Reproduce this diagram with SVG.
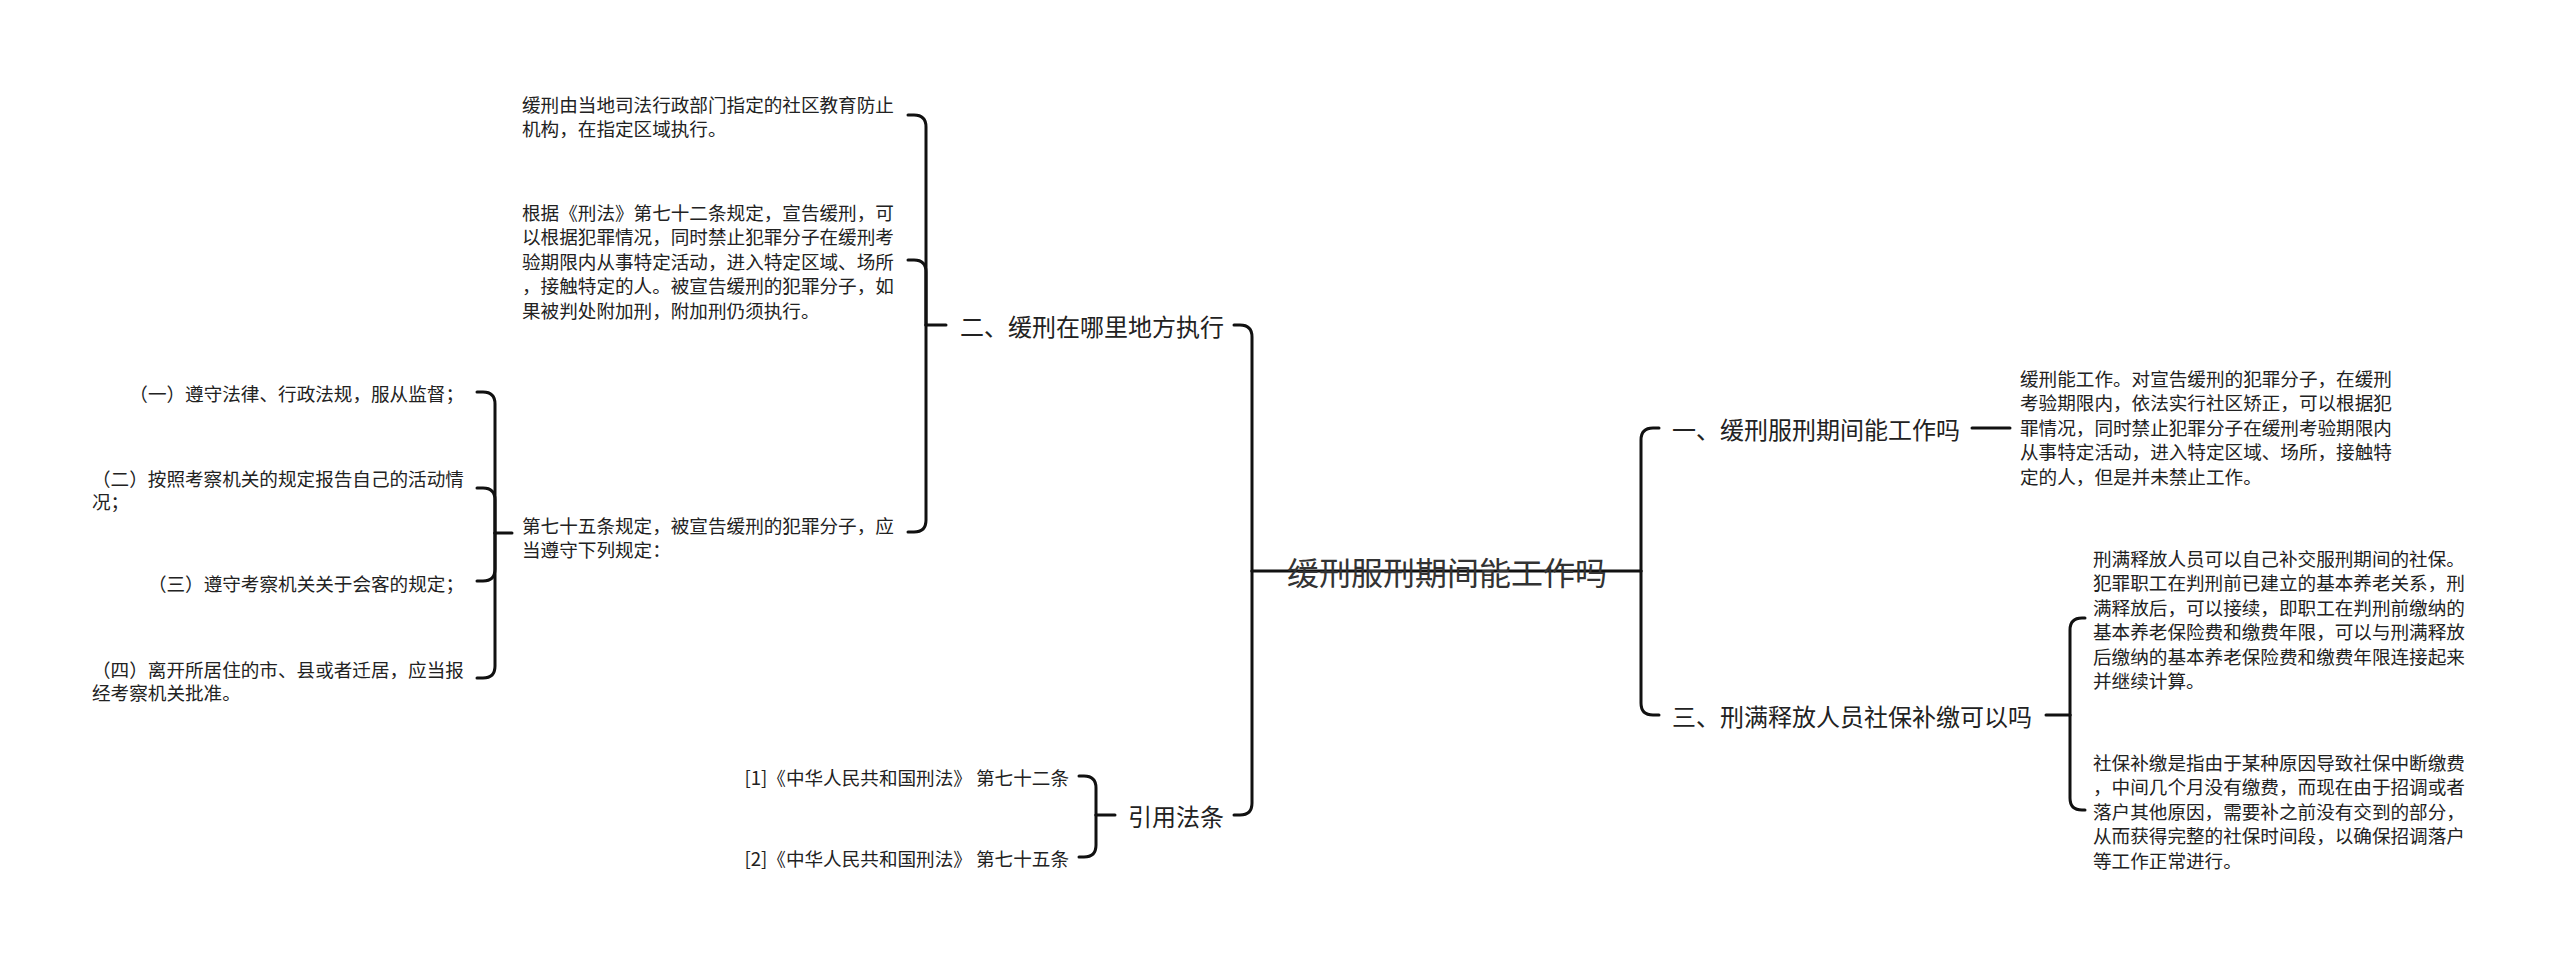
<svg xmlns="http://www.w3.org/2000/svg" width="2560" height="961" viewBox="0 0 2560 961">
<style>
text{font-family:"Noto Sans CJK SC","Noto Sans",sans-serif;fill:#222;dominant-baseline:central}
.root{font-size:32px;fill:#333}
.mid{font-size:24px}
.leaf{font-size:18.6px}
.end{text-anchor:end}
.c{text-anchor:middle}
#connectors path{fill:none;stroke:#111;stroke-width:3;stroke-linecap:round}
</style>
<rect width="2560" height="961" fill="#fff"/>
<g id="connectors">
<path d="M1252 571 H1641"/>
<path d="M1252 571 V337 Q1252 325 1240 325 H1234"/>
<path d="M1252 571 V803 Q1252 815 1240 815 H1234"/>
<path d="M1641 571 V440 Q1641 428 1653 428 H1659"/>
<path d="M1641 571 V703 Q1641 715 1653 715 H1659"/>
<path d="M1972 428 H2010"/>
<path d="M2046 715 H2070"/>
<path d="M2070 715 V630 Q2070 618 2082 618 H2085"/>
<path d="M2070 715 V798 Q2070 810 2082 810 H2085"/>
<path d="M946 325 H926"/>
<path d="M926 325 V127 Q926 115 914 115 H908"/>
<path d="M926 325 V272 Q926 260 914 260 H908"/>
<path d="M926 325 V520 Q926 532 914 532 H908"/>
<path d="M512 533 H495"/>
<path d="M495 533 V404 Q495 392 483 392 H477"/>
<path d="M495 533 V500 Q495 488 483 488 H477"/>
<path d="M495 533 V569 Q495 581 483 581 H477"/>
<path d="M495 533 V666 Q495 678 483 678 H477"/>
<path d="M1115 815 H1096"/>
<path d="M1096 815 V788 Q1096 776 1084 776 H1079"/>
<path d="M1096 815 V845 Q1096 857 1084 857 H1079"/>
</g>
<g id="root"><text class="root c" x="1447" y="571">缓刑服刑期间能工作吗</text></g>
<g id="n2"><text class="mid end" x="1224" y="325">二、缓刑在哪里地方执行</text></g>
<g id="n2a"><text class="leaf" x="522" y="103">缓刑由当地司法行政部门指定的社区教育防止</text><text class="leaf" x="522" y="127.5">机构，在指定区域执行。</text></g>
<g id="n2b"><text class="leaf" x="522" y="211">根据《刑法》第七十二条规定，宣告缓刑，可</text><text class="leaf" x="522" y="235.5">以根据犯罪情况，同时禁止犯罪分子在缓刑考</text><text class="leaf" x="522" y="260">验期限内从事特定活动，进入特定区域、场所</text><text class="leaf" x="522" y="284.5">，接触特定的人。被宣告缓刑的犯罪分子，如</text><text class="leaf" x="522" y="309">果被判处附加刑，附加刑仍须执行。</text></g>
<g id="n2c"><text class="leaf" x="522" y="524">第七十五条规定，被宣告缓刑的犯罪分子，应</text><text class="leaf" x="522" y="548.5">当遵守下列规定：</text></g>
<g id="c1"><text class="leaf end" x="464" y="392">（一）遵守法律、行政法规，服从监督；</text></g>
<g id="c2"><text class="leaf" x="92" y="477">（二）按照考察机关的规定报告自己的活动情</text><text class="leaf" x="92" y="500.5">况；</text></g>
<g id="c3"><text class="leaf end" x="464" y="582">（三）遵守考察机关关于会客的规定；</text></g>
<g id="c4"><text class="leaf" x="92" y="668">（四）离开所居住的市、县或者迁居，应当报</text><text class="leaf" x="92" y="691.5">经考察机关批准。</text></g>
<g id="ref"><text class="mid end" x="1224" y="815">引用法条</text></g>
<g id="ref1"><text class="leaf end" x="1069" y="776">[1]《中华人民共和国刑法》 第七十二条</text></g>
<g id="ref2"><text class="leaf end" x="1069" y="857">[2]《中华人民共和国刑法》 第七十五条</text></g>
<g id="n1"><text class="mid" x="1672" y="428">一、缓刑服刑期间能工作吗</text></g>
<g id="n1a"><text class="leaf" x="2020" y="377">缓刑能工作。对宣告缓刑的犯罪分子，在缓刑</text><text class="leaf" x="2020" y="401.5">考验期限内，依法实行社区矫正，可以根据犯</text><text class="leaf" x="2020" y="426">罪情况，同时禁止犯罪分子在缓刑考验期限内</text><text class="leaf" x="2020" y="450.5">从事特定活动，进入特定区域、场所，接触特</text><text class="leaf" x="2020" y="475">定的人，但是并未禁止工作。</text></g>
<g id="n3"><text class="mid" x="1672" y="715">三、刑满释放人员社保补缴可以吗</text></g>
<g id="n3a"><text class="leaf" x="2093" y="557">刑满释放人员可以自己补交服刑期间的社保。</text><text class="leaf" x="2093" y="581.5">犯罪职工在判刑前已建立的基本养老关系，刑</text><text class="leaf" x="2093" y="606">满释放后，可以接续，即职工在判刑前缴纳的</text><text class="leaf" x="2093" y="630.5">基本养老保险费和缴费年限，可以与刑满释放</text><text class="leaf" x="2093" y="655">后缴纳的基本养老保险费和缴费年限连接起来</text><text class="leaf" x="2093" y="679.5">并继续计算。</text></g>
<g id="n3b"><text class="leaf" x="2093" y="761">社保补缴是指由于某种原因导致社保中断缴费</text><text class="leaf" x="2093" y="785.5">，中间几个月没有缴费，而现在由于招调或者</text><text class="leaf" x="2093" y="810">落户其他原因，需要补之前没有交到的部分，</text><text class="leaf" x="2093" y="834.5">从而获得完整的社保时间段，以确保招调落户</text><text class="leaf" x="2093" y="859">等工作正常进行。</text></g>
</svg>
